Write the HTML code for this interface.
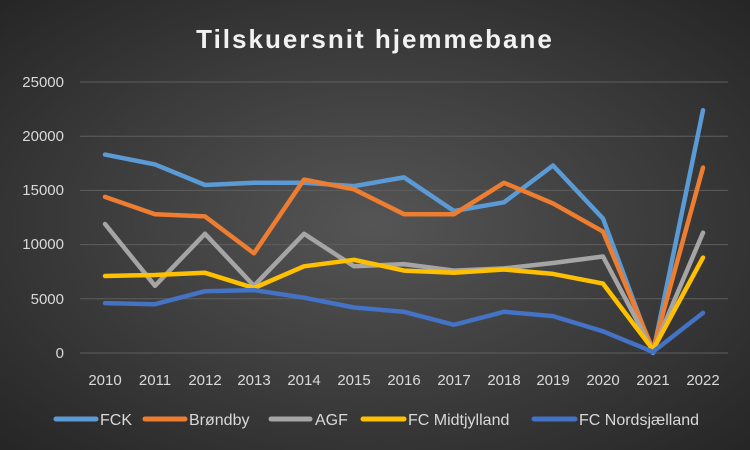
<!DOCTYPE html>
<html><head><meta charset="utf-8"><style>
body{margin:0;width:750px;height:450px;overflow:hidden}
svg{display:block}
text{font-family:"Liberation Sans",sans-serif;fill:#d9d9d9}
</style></head><body>
<svg width="750" height="450" viewBox="0 0 750 450">
<defs><radialGradient id="bg" cx="50%" cy="50%" r="70%">
<stop offset="0" stop-color="#555"/><stop offset="1" stop-color="#262626"/></radialGradient></defs>
<rect width="750" height="450" fill="url(#bg)"/>
<text x="375" y="48" text-anchor="middle" font-size="26" font-weight="bold" letter-spacing="2" style="fill:#f2f2f2">Tilskuersnit hjemmebane</text>
<g stroke="#5e5e5e" stroke-width="1">
<line x1="80" x2="728" y1="82" y2="82"/><line x1="80" x2="728" y1="136.2" y2="136.2"/><line x1="80" x2="728" y1="190.4" y2="190.4"/><line x1="80" x2="728" y1="244.6" y2="244.6"/><line x1="80" x2="728" y1="298.8" y2="298.8"/><line x1="80" x2="728" y1="353" y2="353"/>
</g>
<g font-size="15" text-anchor="end">
<text x="64" y="87">25000</text><text x="64" y="141">20000</text><text x="64" y="195">15000</text><text x="64" y="249">10000</text><text x="64" y="304">5000</text><text x="64" y="358">0</text>
</g>
<g font-size="15" text-anchor="middle">
<text x="105" y="385">2010</text><text x="155" y="385">2011</text><text x="205" y="385">2012</text><text x="254" y="385">2013</text><text x="304" y="385">2014</text><text x="354" y="385">2015</text><text x="404" y="385">2016</text><text x="454" y="385">2017</text><text x="504" y="385">2018</text><text x="553" y="385">2019</text><text x="603" y="385">2020</text><text x="653" y="385">2021</text><text x="703" y="385">2022</text>
</g>
<g fill="none" stroke-width="4.5" stroke-linejoin="round" stroke-linecap="round">
<polyline stroke="#5B9BD5" points="105,154.6 155,164.4 205,185 254,182.8 304,182.8 354,186.1 404,177.4 454,211 504,202.3 553,165.5 603,218.6 653,353 703,110.2"/>
<polyline stroke="#ED7D31" points="105,196.9 155,214.2 205,216.4 254,253.3 304,179.6 354,189.3 404,214.2 454,214.2 504,182.8 553,203.4 603,231.6 653,349.7 703,167.6"/>
<polyline stroke="#A5A5A5" points="105,224 155,285.8 205,233.8 254,285.8 304,233.8 354,266.3 404,264.1 454,270.6 504,268.4 553,263 603,256.5 653,350.8 703,232.7"/>
<polyline stroke="#FFC000" points="105,276 155,275 205,272.8 254,288 304,266.3 354,259.8 404,270.6 454,272.8 504,269.5 553,273.9 603,283.6 653,349.7 703,257.6"/>
<polyline stroke="#4472C4" points="105,303.1 155,304.2 205,291.2 254,290.1 304,297.7 354,307.5 404,311.8 454,324.8 504,311.8 553,316.1 603,331.3 653,351.9 703,312.9"/>
</g>
<g stroke-width="5" stroke-linecap="round">
<line x1="56" x2="96" y1="419" y2="419" stroke="#5B9BD5"/>
<line x1="145" x2="185" y1="419" y2="419" stroke="#ED7D31"/>
<line x1="271" x2="310" y1="419" y2="419" stroke="#A5A5A5"/>
<line x1="363" x2="404" y1="419" y2="419" stroke="#FFC000"/>
<line x1="534" x2="575" y1="419" y2="419" stroke="#4472C4"/>
</g>
<g font-size="16">
<text x="100" y="425">FCK</text><text x="189" y="425">Brøndby</text><text x="315" y="425">AGF</text><text x="408" y="425">FC Midtjylland</text><text x="579" y="425">FC Nordsjælland</text>
</g>
</svg>
</body></html>
